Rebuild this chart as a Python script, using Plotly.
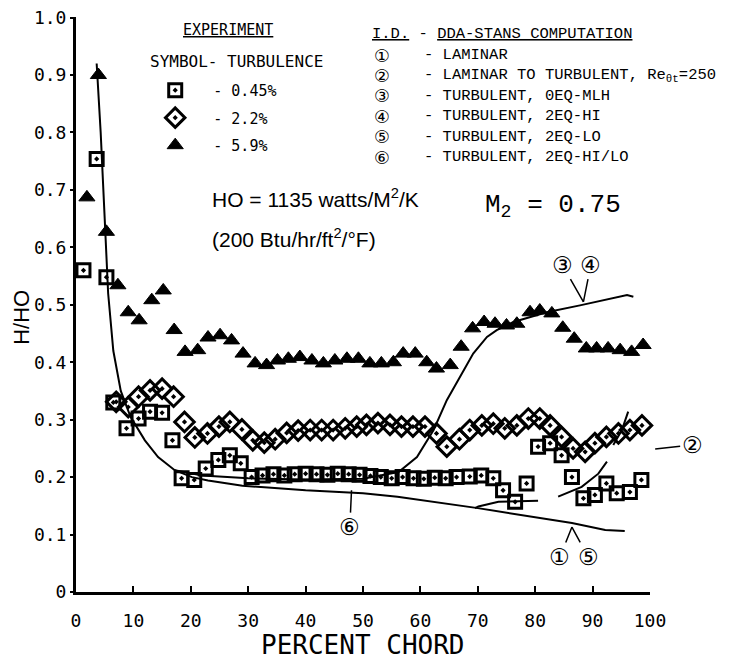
"""
H/HO heat transfer distribution vs percent chord, M2 = 0.75 (scanned NASA-style figure).
"""

import plotly.graph_objects as go

# ---- experiment (percent chord, H/HO) ----
sq_x = [1.3, 3.6, 5.3, 6.5, 8.8, 10.9, 12.9, 15.0, 16.8, 18.4, 20.6, 22.6, 24.8, 26.8, 28.7,
        30.6, 32.5, 34.4, 36.3, 38.1, 40.0, 41.9, 43.8, 45.6, 47.5, 49.4, 51.3, 53.1, 55.0,
        56.9, 58.8, 60.6, 62.5, 64.4, 66.3, 68.6, 70.6, 72.7, 74.4, 76.5, 78.5, 80.5, 82.6,
        84.6, 86.4, 88.4, 90.4, 92.4, 94.2, 96.5, 98.5, 100.5]
sq_y = [0.56, 0.754, 0.548, 0.33, 0.285, 0.302, 0.314, 0.312, 0.264, 0.198, 0.195, 0.215, 0.23,
        0.238, 0.224, 0.20, 0.203, 0.205, 0.203, 0.205, 0.206, 0.205, 0.204, 0.206, 0.205, 0.204,
        0.202, 0.200, 0.198, 0.200, 0.198, 0.197, 0.199, 0.198, 0.200, 0.201, 0.203, 0.198, 0.177,
        0.157, 0.189, 0.253, 0.259, 0.238, 0.20, 0.163, 0.169, 0.189, 0.172, 0.174, 0.195, 0.212]

dm_x = [7.0, 9.1, 10.9, 12.9, 15.0, 17.0, 18.9, 20.7, 22.9, 24.9, 26.8, 28.9, 30.8, 32.8, 34.7,
        36.7, 38.7, 40.8, 42.8, 44.8, 46.9, 48.9, 50.6, 52.6, 54.7, 56.7, 58.7, 60.8, 62.8, 64.6,
        66.8, 68.6, 70.7, 72.7, 74.7, 76.8, 78.8, 80.8, 82.6, 84.6, 86.6, 88.7, 90.4, 92.4, 94.5,
        96.5, 98.6, 100.5]
dm_y = [0.331, 0.322, 0.34, 0.351, 0.354, 0.34, 0.296, 0.269, 0.276, 0.288, 0.296, 0.283, 0.264,
        0.26, 0.266, 0.277, 0.281, 0.282, 0.282, 0.282, 0.285, 0.288, 0.291, 0.294, 0.291, 0.288,
        0.288, 0.288, 0.276, 0.253, 0.266, 0.282, 0.29, 0.293, 0.285, 0.29, 0.302, 0.302, 0.29,
        0.27, 0.25, 0.244, 0.259, 0.27, 0.276, 0.282, 0.29, 0.282]

tr_x = [1.9, 3.9, 5.3, 7.3, 9.1, 11.0, 13.2, 15.2, 17.1, 19.0, 21.2, 23.0, 25.1, 27.1, 29.1,
        31.2, 33.2, 35.1, 37.0, 39.0, 41.1, 43.1, 45.1, 47.2, 49.2, 51.2, 53.2, 55.3, 57.0, 59.1,
        61.1, 62.8, 65.2, 67.1, 69.1, 71.1, 73.0, 75.0, 76.8, 79.1, 80.8, 82.9, 84.8, 86.8, 88.9,
        90.7, 92.7, 94.8, 96.8, 98.8, 100.5]
tr_y = [0.687, 0.90, 0.627, 0.534, 0.487, 0.473, 0.508, 0.525, 0.456, 0.418, 0.421, 0.443, 0.447,
        0.438, 0.415, 0.398, 0.395, 0.403, 0.406, 0.409, 0.403, 0.398, 0.403, 0.406, 0.406, 0.398,
        0.398, 0.40, 0.415, 0.415, 0.40, 0.389, 0.395, 0.427, 0.459, 0.47, 0.467, 0.464, 0.467,
        0.487, 0.49, 0.485, 0.46, 0.441, 0.424, 0.424, 0.424, 0.421, 0.418, 0.43, 0.441]

# ---- DDA-STANS computations ----
# curves 1 & 5 (laminar / 2EQ-LO), 6 runs on top of it up to mid chord
lam_x = [3.6, 4.3, 5.0, 5.6, 6.5, 7.8, 9.5, 12.0, 14.3, 17.2, 20.2, 23.0, 29.0, 40.0, 50.0,
         56.0, 70.0, 79.4, 86.4, 92.2, 95.6]
lam_y = [0.92, 0.80, 0.65, 0.52, 0.42, 0.35, 0.305, 0.264, 0.235, 0.212, 0.20, 0.194, 0.185,
         0.177, 0.172, 0.166, 0.146, 0.131, 0.12, 0.108, 0.106]
# curves 3 & 4 (turbulent)
turb_x = [17.2, 22.0, 30.0, 40.0, 50.0, 56.2, 59.4, 62.3, 64.6, 66.9, 69.2, 71.6, 73.3, 76.2,
          82.0, 87.8, 92.5, 96.0, 97.1]
turb_y = [0.212, 0.203, 0.198, 0.196, 0.197, 0.209, 0.235, 0.282, 0.334, 0.374, 0.415, 0.444,
          0.456, 0.47, 0.487, 0.499, 0.51, 0.517, 0.514]
# curve 2 (laminar to turbulent), broken where the scan drops out
trans_x = [69.5, 70.1, 73.6, 77.0, 80.5, None, 84.0, 88.1, 91.0, 92.5, None, 93.6, 95.1, 96.2]
trans_y = [0.146, 0.149, 0.157, 0.158, 0.159, None, 0.166, 0.183, 0.206, 0.227, None, 0.256,
           0.282, 0.314]

legend_names = ["\u00a0\u00a0- 0.45%", "\u00a0\u00a0- 2.2%", "\u00a0\u00a0- 5.9%"]

id_marks = ["①", "②", "③", "④", "⑤", "⑥"]
id_texts = [
    "- LAMINAR",
    "- LAMINAR TO TURBULENT, Re<sub>θt</sub>=250",
    "- TURBULENT, 0EQ-MLH",
    "- TURBULENT, 2EQ-HI",
    "- TURBULENT, 2EQ-LO",
    "- TURBULENT, 2EQ-HI/LO",
]

MONO = "DejaVu Sans Mono"
TYPE = "Liberation Mono"
SANS = "Liberation Sans"

fig = go.Figure()

for xs, ys in [(lam_x, lam_y), (turb_x, turb_y), (trans_x, trans_y)]:
    fig.add_trace(go.Scatter(x=xs, y=ys, mode="lines", line={"color": "black", "width": 2},
                             showlegend=False, hoverinfo="skip", cliponaxis=False))

marker_sets = [
    (sq_x, sq_y, "square-open-dot", 13, 3),
    (dm_x, dm_y, "diamond-open-dot", 15, 3),
    (tr_x, tr_y, "triangle-up", 14, 1),
]
for i, (xs, ys, sym, size, lw) in enumerate(marker_sets):
    fig.add_trace(go.Scatter(
        x=xs, y=ys, mode="markers", name=legend_names[i], legendgroup=str(i),
        marker={"symbol": sym, "size": size, "color": "black", "line": {"width": lw, "color": "black"}},
        cliponaxis=False,
    ))

annotations = [
    dict(x=0.264, y=0.978, text="<u>EXPERIMENT</u>", font={"family": MONO, "size": 15}),
    dict(x=0.279, y=0.922, text="SYMBOL- TURBULENCE", font={"family": MONO, "size": 16}),
    dict(x=0.512, y=0.971, xanchor="left", text="<u>I.D.</u> - <u>DDA-STANS COMPUTATION</u>",
         font={"family": TYPE, "size": 15.5}),
    dict(x=0.233, y=0.685, xanchor="left", text="HO = 1135 watts/M<sup>2</sup>/K",
         font={"family": SANS, "size": 21}),
    dict(x=0.233, y=0.616, xanchor="left", text="(200 Btu/hr/ft<sup>2</sup>/°F)",
         font={"family": SANS, "size": 21}),
    dict(x=0.709, y=0.672, xanchor="left", text="M<sub>2</sub> = 0.75",
         font={"family": TYPE, "size": 26}),
    # axis titles placed as annotations to sit where the scan has them
    dict(x=0.5, y=-0.092, text="PERCENT CHORD", height=24, font={"family": MONO, "size": 26}),
    dict(x=-0.094, y=0.477, text="H/HO", textangle=-90, font={"family": SANS, "size": 22}),
]
for i, (mark, txt) in enumerate(zip(id_marks, id_texts)):
    row_y = (592 - (55 + 20.4 * i)) / 575
    annotations.append(dict(x=0.533, y=row_y, text=mark, height=19,
                            font={"family": "DejaVu Sans", "size": 17.5}))
    annotations.append(dict(x=0.603, y=row_y, xanchor="left", text=txt,
                            font={"family": TYPE, "size": 15.5}))
for a in annotations:
    a.update(xref="paper", yref="paper", showarrow=False)
    a.setdefault("xanchor", "center")
    a.setdefault("yanchor", "middle")

# circled curve labels with pointer lines to the curves
pointers = [
    ("③", 84.7, 0.570, 88.4, 0.505),
    ("④", 89.7, 0.570, 88.4, 0.505),
    ("①", 84.3, 0.061, 86.4, 0.113),
    ("⑤", 89.2, 0.061, 86.4, 0.113),
    ("⑥", 47.7, 0.113, 48.0, 0.177),
]
for mark, lx, ly, px, py in pointers:
    annotations.append(dict(
        x=px, y=py, ax=lx, ay=ly, xref="x", yref="y", axref="x", ayref="y",
        text=mark, showarrow=True, arrowhead=0, arrowwidth=1.5, arrowcolor="black",
        font={"family": "DejaVu Sans", "size": 23},
    ))
annotations.append(dict(
    x=1.009, y=0.249, xref="paper", yref="y", ax=37, ay=-4, text="②", showarrow=True,
    arrowhead=0, arrowwidth=1.5, arrowcolor="black", font={"family": "DejaVu Sans", "size": 23},
))

# the page body adds an 8px margin, so the figure is 16px smaller than the window
fig.update_layout(
    width=714,
    height=651,
    margin={"l": 68, "r": 72, "t": 9, "b": 67},
    plot_bgcolor="white",
    paper_bgcolor="white",
    font={"color": "black"},
    annotations=annotations,
    legend={
        "x": 0.138, "y": 0.901, "xanchor": "left", "yanchor": "top",
        "font": {"family": MONO, "size": 15}, "bgcolor": "rgba(0,0,0,0)",
        "traceorder": "grouped", "tracegroupgap": 5,
    },
    xaxis={
        "range": [0, 100],
        "automargin": False,
        "tickvals": list(range(0, 101, 10)),
        "ticks": "inside", "ticklen": 6, "tickwidth": 2, "tickcolor": "black",
        "ticklabelstandoff": 10,
        "ticklabeloverflow": "allow",
        "tickfont": {"family": MONO, "size": 18},
        "showline": True, "linewidth": 3, "linecolor": "black",
        "showgrid": False, "zeroline": False,
    },
    yaxis={
        "range": [0, 1.001],
        "automargin": False,
        "tickvals": [i / 10 for i in range(11)],
        "ticktext": ["0"] + [f"{i / 10:.1f}" for i in range(1, 11)],
        "ticks": "outside", "ticklen": 3, "tickwidth": 2, "tickcolor": "black",
        "ticklabeloverflow": "allow",
        "tickfont": {"family": MONO, "size": 18},
        "showline": True, "linewidth": 3, "linecolor": "black",
        "showgrid": False, "zeroline": False,
    },
)

fig.write_html("out.html")
